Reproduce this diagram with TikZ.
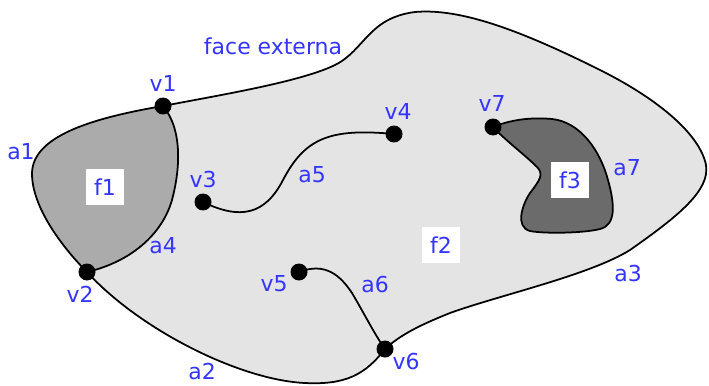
\documentclass[tikz,border=0pt]{standalone}
\usepackage{fontspec}
\setmainfont{DejaVu Sans}
\usepackage{tikz}
\usetikzlibrary{
  positioning,
  backgrounds
}
\definecolor{LabelBlue}{HTML}{3434FF}
\definecolor{OuterGray}{HTML}{E4E4E4}
\definecolor{FaceOneGray}{HTML}{ABABAB}
\definecolor{FaceThreeGray}{HTML}{6B6B6B}

\begin{document}
\begin{tikzpicture}[
  x=0.02cm,y=-0.02cm,
  vertex/.style={circle,fill=black,minimum size=0.34cm,inner sep=0pt},
  lbl/.style={font=\fontsize{12.5}{14}\selectfont,text=LabelBlue,inner sep=1pt},
  facebox/.style={lbl,fill=white,minimum width=0.76cm,minimum height=0.72cm},
  edge/.style={draw=black,line width=1pt}
]
\useasboundingbox (0,0) rectangle (709,385);

% Vertices.
\node[vertex] (v1) at (163,106) {};
\node[vertex] (v2) at (87,272) {};
\node[vertex] (v3) at (203,202) {};
\node[vertex] (v4) at (394,134) {};
\node[vertex] (v5) at (299,272) {};
\node[vertex] (v6) at (385,349) {};
\node[vertex] (v7) at (493,127) {};

\begin{scope}[on background layer]
% Outer boundary: a1, a3, a2.
\path[fill=OuterGray] (v1.center)
  .. controls (220,95) and (300,82) .. (335,65)
  .. controls (365,50) and (368,18) .. (415,12)
  .. controls (460,8) and (520,30) .. (600,70)
  .. controls (660,100) and (700,135) .. (706,165)
  .. controls (710,190) and (680,215) .. (630,250)
  .. controls (590,275) and (500,295) .. (450,313)
  .. controls (420,325) and (400,335) .. (v6.center)
  .. controls (365,375) and (345,385) .. (305,383)
  .. controls (240,380) and (140,330) .. (v2.center)
  .. controls (65,250) and (33,210) .. (32,175)
  .. controls (31,140) and (80,120) .. (v1.center) -- cycle;

% Face f1.
\path[fill=FaceOneGray] (v1.center)
  .. controls (183,130) and (180,170) .. (172,200)
  .. controls (162,235) and (130,262) .. (v2.center)
  .. controls (65,250) and (33,210) .. (32,175)
  .. controls (31,140) and (80,120) .. (v1.center) -- cycle;

% Face f3 bounded by a7.
\path[fill=FaceThreeGray,edge] (v7.center)
  .. controls (510,120) and (530,117) .. (552,119)
  .. controls (580,122) and (600,150) .. (608,180)
  .. controls (615,205) and (616,225) .. (600,229)
  .. controls (585,233) and (545,234) .. (530,231)
  .. controls (515,227) and (522,205) .. (530,193)
  .. controls (540,180) and (544,174) .. (537,167)
  .. controls (525,155) and (505,140) .. (v7.center);

% Edges.
\draw[edge] (v1.center)
  .. controls (220,95) and (300,82) .. (335,65)
  .. controls (365,50) and (368,18) .. (415,12)
  .. controls (460,8) and (520,30) .. (600,70)
  .. controls (660,100) and (700,135) .. (706,165)
  .. controls (710,190) and (680,215) .. (630,250)
  .. controls (590,275) and (500,295) .. (450,313)
  .. controls (420,325) and (400,335) .. (v6.center);
\draw[edge] (v6.center)
  .. controls (365,375) and (345,385) .. (305,383)
  .. controls (240,380) and (140,330) .. (v2.center);
\draw[edge] (v2.center)
  .. controls (65,250) and (33,210) .. (32,175)
  .. controls (31,140) and (80,120) .. (v1.center);
\draw[edge] (v1.center)
  .. controls (183,130) and (180,170) .. (172,200)
  .. controls (162,235) and (130,262) .. (v2.center);
\draw[edge] (v3.center)
  .. controls (240,220) and (265,215) .. (283,180)
  .. controls (305,138) and (330,128) .. (v4.center);
\draw[edge] (v5.center)
  .. controls (325,262) and (340,275) .. (352,293)
  .. controls (365,315) and (375,335) .. (v6.center);
\end{scope}

% Face labels.
\node[facebox] (f1) at (105,187) {f1};
\node[facebox] (f2) at (441,245) {f2};
\node[facebox] (f3) at (570,180) {f3};
\node[lbl] (fext) at (273,46) {face externa};

% Vertex labels.
\node[lbl] (lv1) at (163,83) {v1};
\node[lbl] (lv2) at (80,294) {v2};
\node[lbl] (lv3) at (203,180) {v3};
\node[lbl] (lv4) at (398,111) {v4};
\node[lbl] (lv5) at (274,284) {v5};
\node[lbl] (lv6) at (406,362) {v6};
\node[lbl] (lv7) at (492,103) {v7};

% Edge labels.
\node[lbl] (la1) at (21,152) {a1};
\node[lbl] (la2) at (202,372) {a2};
\node[lbl] (la3) at (628,274) {a3};
\node[lbl] (la4) at (163,246) {a4};
\node[lbl] (la5) at (312,175) {a5};
\node[lbl] (la6) at (375,285) {a6};
\node[lbl] (la7) at (627,168) {a7};
\end{tikzpicture}
\end{document}
